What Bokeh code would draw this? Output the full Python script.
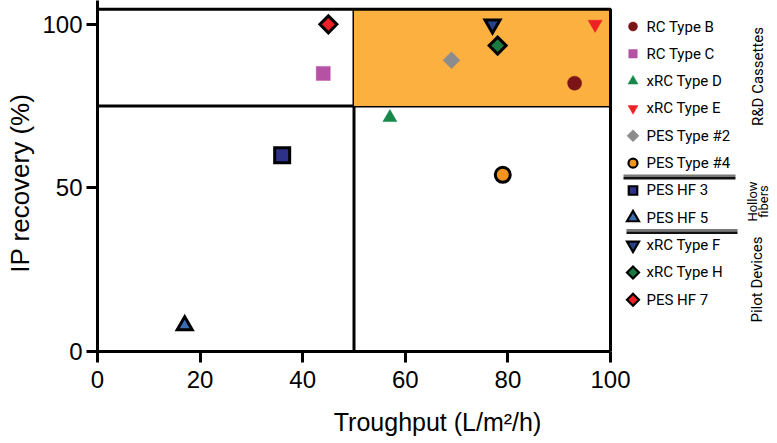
import math
from bokeh.plotting import figure
from bokeh.models import (Range1d, BoxAnnotation, Label, FixedTicker)
from bokeh.core.properties import value
from bokeh.embed import file_html
from bokeh.resources import INLINE

# ---------------- data ----------------
names = ["RC Type B", "RC Type C", "xRC Type D", "xRC Type E", "PES Type #2",
         "PES Type #4", "PES HF 3", "PES HF 5", "xRC Type F", "xRC Type H", "PES HF 7"]
throughput = [93, 44, 57, 97, 69, 79, 36, 17, 77, 78, 45]
recovery = [82, 85, 71.5, 100, 89, 54, 60, 8, 100, 93.5, 100]
shapes = ["circle", "square", "triangle", "inverted_triangle", "diamond",
          "circle", "square", "triangle", "inverted_triangle", "diamond", "diamond"]
fills = ["#7b1416", "#b552a4", "#17884a", "#ed2224", "#8c8c8c",
         "#f7941d", "#2e3189", "#3b6db3", "#27428a", "#1b7a43", "#ec2027"]
outlined = [False, False, False, False, False, True, True, True, True, True, True]
group_labels = ["R&D Cassettes", "Hollow", "fibers", "Pilot Devices"]
x_ticks = [0, 20, 40, 60, 80, 100]
y_ticks = [0, 50, 100]
x_min, x_max = 0, 100
y_min, y_max = 0, 104.6
x_split = 50
y_split = 75
x_label = "Troughput (L/m\u00b2/h)"
y_label = "IP   recovery (%)"

# ---------------- layout (pixels) ----------------
W, H = 777, 443
LEFT, BOTTOM = 97, 92
PX_X = 5.13            # pixels per x unit
PX_Y = 3.272           # pixels per y unit
frame_w = W - LEFT
frame_h = H - BOTTOM
x_view_end = frame_w / PX_X       # frame also hosts the legend area
y_view_end = frame_h / PX_Y


def px_x(px):   # page pixel -> data x
    return (px - LEFT) / PX_X


def px_y(py):   # page pixel -> data y
    return (frame_h - py) / PX_Y


p = figure(width=W, height=H, output_backend="svg", toolbar_location=None,
           x_range=Range1d(x_min, x_view_end), y_range=Range1d(y_min, y_view_end),
           min_border_left=LEFT, min_border_right=0, min_border_top=0,
           min_border_bottom=BOTTOM)
p.background_fill_color = "white"
p.border_fill_color = "white"
p.outline_line_color = None
p.xgrid.visible = False
p.ygrid.visible = False

p.xaxis.ticker = FixedTicker(ticks=x_ticks)
p.yaxis.ticker = FixedTicker(ticks=y_ticks)
p.xaxis.bounds = (x_min, x_max)
for ax in (p.xaxis[0], p.yaxis[0]):
    ax.axis_line_width = 3
    ax.axis_line_color = "black"
    ax.major_tick_line_width = 3
    ax.major_tick_line_color = "black"
    ax.major_tick_out = 11
    ax.major_tick_in = 0
    ax.minor_tick_line_color = None
    ax.major_label_text_font = "Liberation Sans"
    ax.major_label_text_font_size = "24px"
    ax.major_label_text_color = "black"
    ax.axis_label_text_font = "Liberation Sans"
    ax.axis_label_text_font_style = "normal"
    ax.axis_label_text_color = "black"
p.xaxis.axis_label = x_label
p.yaxis.axis_label = y_label
p.xaxis.major_label_standoff = 8
p.yaxis.major_label_standoff = 4
p.xaxis.axis_label_text_font_size = "25px"
p.yaxis.axis_label_text_font_size = "26px"
p.xaxis.axis_label_standoff = 17
p.yaxis.axis_label_standoff = 4

# quadrant highlight, plot box and split lines
p.add_layout(BoxAnnotation(left=x_split, right=x_max, bottom=y_split, top=y_max,
                           fill_color="#fbb040", fill_alpha=1, line_alpha=0,
                           level="underlay"))
p.add_layout(BoxAnnotation(left=x_min, right=x_max, bottom=y_min, top=y_max,
                           fill_alpha=0, line_color="black", line_alpha=1,
                           line_width=3, level="underlay"))
p.segment(x0=[x_split], x1=[x_split], y0=[y_min], y1=[y_max],
          line_color="black", line_width=3, level="underlay")
p.segment(x0=[x_min], x1=[x_max], y0=[y_split], y1=[y_split],
          line_color="black", line_width=3, level="underlay")

# data points
plot_sizes = {"circle": 14, "square": 14, "triangle": 14, "inverted_triangle": 14, "diamond": 12}
leg_sizes = {"circle": 9, "square": 8.5, "triangle": 10, "inverted_triangle": 10, "diamond": 8.5}
LEG_X = 632.5          # legend marker centre (px)
LEG_TX = 646           # legend text start (px)
LEG_Y0, LEG_DY = 26, 27.33
for i, name in enumerate(names):
    shape = shapes[i]
    marker = "square" if shape == "diamond" else shape
    angle = math.pi / 4 if shape == "diamond" else 0
    lc = "black" if outlined[i] else fills[i]
    size = plot_sizes[shape] + (1 if outlined[i] and shape != "diamond" else 0)
    p.scatter(x=[throughput[i]], y=[recovery[i]], marker=marker, angle=angle,
              size=size, fill_color=fills[i], line_color=lc,
              line_width=3 if outlined[i] else 0.5, line_join="miter")
    # legend entry
    ly = px_y(LEG_Y0 + i * LEG_DY)
    lsize = leg_sizes[shape] + (2 if outlined[i] and shape in ("triangle", "inverted_triangle") else 0)
    p.scatter(x=[px_x(LEG_X)], y=[ly], marker=marker, angle=angle, size=lsize,
              fill_color=fills[i], line_color=lc,
              line_width=2.2 if outlined[i] else 0.5, line_join="miter")
    p.text(x=[px_x(LEG_TX)], y=[ly], text=[name], text_font=value("Roboto"),
           text_font_size="15px", text_color="black", text_baseline="middle",
           text_align="left")

# group labels (screen units relative to the frame)
lab_kw = dict(x_units="screen", y_units="screen", angle=math.pi / 2,
              text_align="center", text_baseline="middle",
              text_font="Roboto", text_color="black")
p.add_layout(Label(x=757 - LEFT, y=frame_h - 76, text=group_labels[0],
                   text_font_size="15px", **lab_kw))
p.add_layout(Label(x=752 - LEFT, y=frame_h - 201, text=group_labels[1],
                   text_font_size="13px", **lab_kw))
p.add_layout(Label(x=763 - LEFT, y=frame_h - 201, text=group_labels[2],
                   text_font_size="13px", **lab_kw))
p.add_layout(Label(x=756 - LEFT, y=frame_h - 279, text=group_labels[3],
                   text_font_size="15px", **lab_kw))

# separators (gray over black)
for (x0, x1, ytop) in [(623, 735, 174), (626, 737, 228.5)]:
    p.add_layout(BoxAnnotation(left=x0 - LEFT, right=x1 - LEFT,
                               top=frame_h - ytop, bottom=frame_h - ytop - 2.5,
                               left_units="screen", right_units="screen",
                               top_units="screen", bottom_units="screen",
                               fill_color="#7a7a7a", fill_alpha=1, line_alpha=0))
    p.add_layout(BoxAnnotation(left=x0 - LEFT, right=x1 - LEFT,
                               top=frame_h - ytop - 2.5, bottom=frame_h - ytop - 5,
                               left_units="screen", right_units="screen",
                               top_units="screen", bottom_units="screen",
                               fill_color="#111111", fill_alpha=1, line_alpha=0))

open("out.html", "w").write(file_html(p, INLINE))
